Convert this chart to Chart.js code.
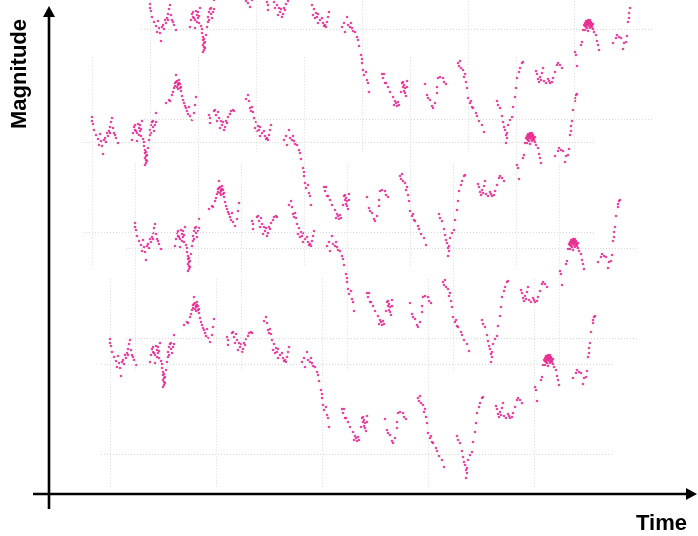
<!DOCTYPE html>
<html>
<head>
<meta charset="utf-8">
<script src="https://cdn.jsdelivr.net/npm/chart.js@4.4.1/dist/chart.umd.min.js"></script>
<style>
  html, body { margin: 0; padding: 0; background: #fff; }
  #stage { position: relative; width: 698px; height: 536px; overflow: hidden; background: #fff; }
  #stage canvas { position: absolute; }
</style>
</head>
<body>
<div id="stage">
  <canvas id="axes" width="698" height="536" style="left:0;top:0"></canvas>
</div>
<script>
// Light curve observations: time (days) and magnitude, grouped by observing run
const time = [
  0, 0, 0.5, 1, 2, 3, 4, 3.5, 4.5, 5, 5.5, 6, 6.5, 7, 8, 8.5, 9, 9.5, 10, 10.5, 11, 11.5, 12, 13, 9, 7.5,
  20, 21, 21.5, 22, 22.5, 23.5, 24, 24, 25, 22.5, 24.5, 25.5, 26, 26, 26.5, 26.5, 27, 27, 27, 26.5, 27.5, 28, 28.5, 29, 29, 29.5, 30, 30.5, 31, 31.5, 32, 32,
  20.5, 23, 24.5, 21.5, 23.5, 27.5, 27, 26.5, 29.5, 30.5,
  37, 38.5, 39, 40, 41, 41.5, 42, 42.5, 43, 43.5, 44, 44.5, 45, 45.5, 46, 47, 47.5, 48.5, 49, 50, 51, 51.5, 52, 41.5, 43,
  42, 42.5, 43.5, 44, 43, 44.5, 40.5, 46.5, 48,
  58.5, 59, 59, 61, 61.5, 62, 63.5, 64, 64.5, 65, 66, 66.5, 67, 68, 69, 69.5, 70.5, 71, 62.5, 65.5, 63, 67.5,
  78, 77, 78.5, 79, 79.5, 80.5, 81, 82, 81.5, 82.5, 83.5, 84, 84, 85, 86, 86.5, 87.5, 88.5, 89, 89.5, 88, 80, 83, 87,
  96, 97, 97.5, 98.5, 99, 100, 100.5, 101, 101.5, 102.5, 103.5, 104, 104.5, 105.5, 106, 106, 106.5, 107, 108, 108.5, 109, 109.5,
  116, 116.5, 117, 117.5, 118, 119, 120, 121.5, 122, 123, 124, 124.5, 126, 126.5, 126.5, 127, 127.5, 128, 128.5, 128.5, 125.5, 122.5, 123.5, 127, 127.5,
  137.5, 138.5, 139, 140, 141, 141.5, 142.5, 143.5, 143.5, 144, 145, 146.5, 147, 148,
  154, 154.5, 155.5, 156.5, 157, 158, 158.5, 159, 160, 161, 161.5, 163, 163.5, 164.5, 166, 167, 155, 157.5, 160.5,
  173.5, 174, 175, 176, 176.5, 177.5, 178, 178, 178.5, 179, 180, 181, 181.5, 182.5, 183, 183.5, 184.5, 185, 186, 186.5, 177, 178.5,
  193, 193.5, 195, 196, 196.5, 194, 194.5, 197, 198, 199, 200, 201, 201.5, 202.5, 203.5, 204, 205, 206, 195.5, 199.5,
  212.5, 213, 213.5, 215.5, 216, 216.5, 217, 217.5, 218.5, 219, 219.5, 220.5, 221, 218, 220, 221.5, 222, 223, 223.5, 224, 224.5, 219, 219.5, 220.5, 217.5, 219,
  218, 218.5, 219.5, 220, 221, 218.5, 220, 218, 219, 220.5, 221.5, 217.5,
  231.5, 233, 233.5, 234.5, 235.5, 236.5, 237, 238, 238.5, 239, 239.5, 239.5, 240, 240.5, 241.5, 241.5, 242, 242.5
];
const magnitude = [
  12.42, 12.46, 12.49, 12.55, 12.60, 12.64, 12.59, 12.70, 12.66, 12.71, 12.79, 12.65, 12.63, 12.67, 12.61, 12.56, 12.52, 12.47, 12.43, 12.53, 12.58, 12.60, 12.63, 12.68, 12.58, 12.58,
  12.65, 12.52, 12.55, 12.56, 12.58, 12.53, 12.56, 12.50, 12.46, 12.66, 12.61, 12.64, 12.67, 12.71, 12.75, 12.78, 12.81, 12.85, 12.88, 12.90, 12.80, 12.73, 12.65, 12.60, 12.55, 12.50, 12.47, 12.52, 12.56, 12.50, 12.47, 12.38,
  12.58, 12.49, 12.54, 12.50, 12.60, 12.86, 12.77, 12.83, 12.58, 12.46,
  12.28, 12.25, 12.26, 12.20, 12.13, 12.08, 12.00, 12.06, 12.10, 12.05, 12.13, 12.16, 12.21, 12.25, 12.28, 12.33, 12.36, 12.32, 12.41, 12.45, 12.38, 12.30, 12.22, 12.11, 12.09,
  12.07, 12.12, 12.08, 12.09, 12.14, 12.12, 12.17, 12.31, 12.39,
  12.40, 12.43, 12.48, 12.36, 12.35, 12.40, 12.43, 12.53, 12.46, 12.50, 12.55, 12.52, 12.46, 12.42, 12.39, 12.36, 12.35, 12.36, 12.46, 12.47, 12.37, 12.48,
  12.20, 12.24, 12.26, 12.33, 12.36, 12.37, 12.43, 12.47, 12.53, 12.56, 12.55, 12.52, 12.61, 12.58, 12.56, 12.61, 12.63, 12.60, 12.55, 12.50, 12.65, 12.32, 12.51, 12.64,
  12.65, 12.61, 12.70, 12.55, 12.63, 12.65, 12.61, 12.66, 12.69, 12.70, 12.75, 12.78, 12.84, 12.93, 12.97, 13.01, 13.08, 13.13, 13.10, 13.18, 13.21, 13.30,
  13.12, 13.16, 13.12, 13.21, 13.21, 13.25, 13.30, 13.35, 13.43, 13.41, 13.40, 13.43, 13.21, 13.25, 13.20, 13.29, 13.26, 13.34, 13.19, 13.25, 13.30, 13.39, 13.44, 13.23, 13.31,
  13.22, 13.33, 13.36, 13.38, 13.44, 13.46, 13.41, 13.31, 13.25, 13.16, 13.15, 13.16, 13.20, 13.22,
  13.01, 13.04, 13.06, 13.08, 13.15, 13.20, 13.26, 13.36, 13.41, 13.45, 13.46, 13.51, 13.54, 13.59, 13.63, 13.70, 12.99, 13.12, 13.39,
  13.39, 13.43, 13.46, 13.54, 13.60, 13.68, 13.73, 13.81, 13.71, 13.63, 13.58, 13.55, 13.45, 13.35, 13.26, 13.16, 13.10, 13.06, 13.01, 13.00, 13.65, 13.76,
  13.09, 13.12, 13.15, 13.11, 13.06, 13.17, 13.20, 13.19, 13.21, 13.17, 13.21, 13.20, 13.16, 13.10, 13.03, 13.01, 13.03, 13.06, 13.18, 13.19,
  12.90, 12.93, 13.04, 12.83, 12.80, 12.68, 12.63, 12.61, 12.60, 12.58, 12.61, 12.60, 12.63, 12.65, 12.66, 12.67, 12.70, 12.73, 12.79, 12.83, 12.88, 12.62, 12.64, 12.61, 12.68, 12.69,
  12.59, 12.63, 12.59, 12.62, 12.65, 12.66, 12.58, 12.62, 12.60, 12.64, 12.62, 12.64,
  12.81, 12.76, 12.73, 12.75, 12.76, 12.87, 12.81, 12.80, 12.74, 12.60, 12.56, 12.51, 12.46, 12.35, 12.26, 12.23, 12.20, 12.19
];

// Faint reference grid inside each panel
const timeGrid = [0, 53, 106, 159, 212];
const magnitudeGrid = [12.68, 13.57];

const axisTitles = { x: 'Time', y: 'Magnitude' };

// Layout: the same light curve is drawn in four overlapping panels
const panelPlacement = [
  { left: 100, top: 278 },
  { left: 125, top: 162 },
  { left: 82,  top: 56 },
  { left: 140, top: -57 }
];
const PANEL_W = 515, PANEL_H = 210;

const TITLE_FONT = { family: "'Liberation Sans', Arial, Helvetica, sans-serif", size: 22, weight: 'bold', lineHeight: 1 };

// Plain arrow axes drawn over the outer frame
const arrowAxes = {
  id: 'arrowAxes',
  afterDraw(chart) {
    const { ctx, chartArea: a } = chart;
    ctx.save();
    ctx.strokeStyle = '#000';
    ctx.fillStyle = '#000';
    ctx.lineWidth = 2.6;
    ctx.beginPath();
    ctx.moveTo(a.left, a.bottom + 15);
    ctx.lineTo(a.left, a.top - 5);
    ctx.moveTo(a.left - 16, a.bottom);
    ctx.lineTo(a.right + 2, a.bottom);
    ctx.stroke();
    ctx.beginPath();
    ctx.moveTo(a.left, a.top - 13);
    ctx.lineTo(a.left - 6, a.top - 2);
    ctx.lineTo(a.left + 6, a.top - 2);
    ctx.closePath();
    ctx.fill();
    ctx.beginPath();
    ctx.moveTo(a.right + 10, a.bottom);
    ctx.lineTo(a.right - 1, a.bottom - 6);
    ctx.lineTo(a.right - 1, a.bottom + 6);
    ctx.closePath();
    ctx.fill();
    ctx.restore();
  }
};

const hiddenScale = {
  type: 'linear',
  ticks: { display: false },
  border: { display: false },
  grid: { display: false, drawTicks: false }
};

new Chart(document.getElementById('axes'), {
  type: 'scatter',
  data: { datasets: [] },
  options: {
    responsive: false,
    animation: false,
    events: [],
    devicePixelRatio: 1,
    layout: { padding: { left: 4, right: 11, top: 19, bottom: 0 } },
    plugins: { legend: { display: false }, tooltip: { enabled: false } },
    scales: {
      x: Object.assign({}, hiddenScale, {
        title: { display: true, text: axisTitles.x, align: 'end', color: '#000', font: TITLE_FONT, padding: { top: 19, bottom: 1 } }
      }),
      y: Object.assign({}, hiddenScale, {
        title: { display: true, text: axisTitles.y, align: 'end', color: '#000', font: TITLE_FONT, padding: { top: 5, bottom: 18 } }
      })
    }
  },
  plugins: [arrowAxes]
});

const stage = document.getElementById('stage');
const points = time.map((t, i) => ({ x: t, y: magnitude[i] }));

panelPlacement.forEach((p) => {
  const cv = document.createElement('canvas');
  cv.width = PANEL_W;
  cv.height = PANEL_H;
  cv.style.left = p.left + 'px';
  cv.style.top = p.top + 'px';
  stage.appendChild(cv);

  const gridScale = (values) => ({
    type: 'linear',
    ticks: { display: false },
    border: { display: false, dash: [1, 2] },
    grid: { drawTicks: false, color: '#dadada', lineWidth: 1 },
    afterBuildTicks: (s) => { s.ticks = values.map((v) => ({ value: v })); }
  });

  new Chart(cv, {
    type: 'scatter',
    data: {
      datasets: [{
        data: points,
        pointRadius: 1.3,
        pointHoverRadius: 0,
        pointBorderWidth: 0,
        pointBackgroundColor: 'rgba(232, 38, 140, 0.85)',
        clip: false
      }]
    },
    options: {
      responsive: false,
      animation: false,
      events: [],
      devicePixelRatio: 1,
      layout: { padding: 0 },
      plugins: { legend: { display: false }, tooltip: { enabled: false } },
      scales: {
        x: Object.assign(gridScale(timeGrid), { min: -4.35, max: 251.85 }),
        y: Object.assign(gridScale(magnitudeGrid), { reverse: true, min: 11.823, max: 13.897 })
      }
    }
  });
});
</script>
</body>
</html>
